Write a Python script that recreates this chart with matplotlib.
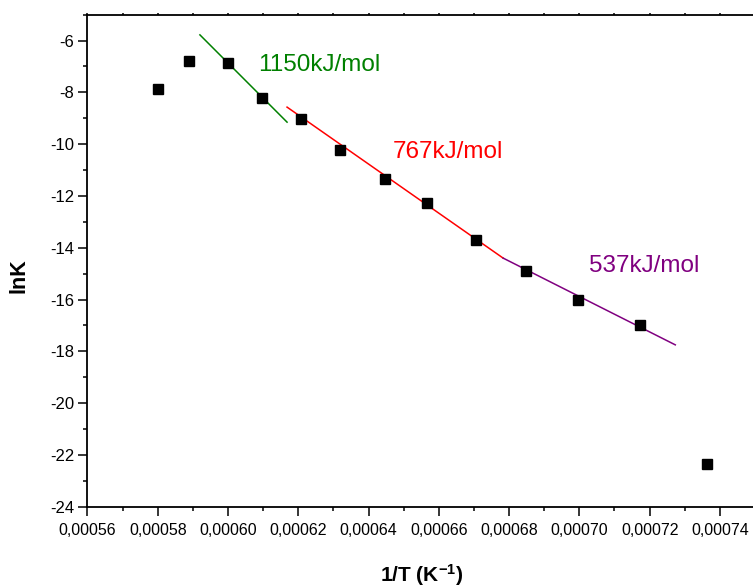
import matplotlib
matplotlib.use('Agg')
import matplotlib.pyplot as plt
from matplotlib.ticker import MultipleLocator, FuncFormatter

# data
inv_T = [0.000580, 0.000589, 0.000600, 0.0006096, 0.0006207, 0.000632, 0.0006448,
         0.0006566, 0.0006706, 0.0006848, 0.0006996, 0.0007172, 0.0007363]
lnK = [-7.87, -6.77, -6.86, -8.21, -9.03, -10.23, -11.34,
       -12.29, -13.72, -14.88, -16.02, -16.98, -22.34]

# fitted lines (end points)
fit1_x = [0.000592, 0.0006168]
fit1_y = [-5.78, -9.15]
fit2_x = [0.0006168, 0.0006783]
fit2_y = [-8.57, -14.40]
fit3_x = [0.0006783, 0.0007273]
fit3_y = [-14.40, -17.75]

labels = ['1150kJ/mol', '767kJ/mol', '537kJ/mol']
colors = ['#008000', '#ff0000', '#800080']

plt.rcParams['font.family'] = ['Liberation Sans', 'DejaVu Sans']
plt.rcParams['mathtext.fontset'] = 'custom'
plt.rcParams['mathtext.rm'] = 'Liberation Sans:bold'
plt.rcParams['mathtext.it'] = 'Liberation Sans:bold'
plt.rcParams['mathtext.bf'] = 'Liberation Sans:bold'

fig = plt.figure(figsize=(7.53, 5.87), dpi=100)
ax = fig.add_axes([0.1162, 0.1368, 0.8865, 0.8382])

ax.plot(fit1_x, fit1_y, color=colors[0], lw=1.1)
ax.plot(fit2_x, fit2_y, color=colors[1], lw=1.1)
ax.plot(fit3_x, fit3_y, color=colors[2], lw=1.1)
ax.plot(inv_T, lnK, 's', color='black', markersize=7, linestyle='none')

ax.text(0.0006085, -6.95, labels[0], color=colors[0], fontsize=17.5, va='center')
ax.text(0.0006468, -10.3, labels[1], color=colors[1], fontsize=17.5, va='center')
ax.text(0.0007027, -14.72, labels[2], color=colors[2], fontsize=17.5, va='center')

ax.set_xlim(0.00056, 0.00075)
ax.set_ylim(-24, -5)
ax.xaxis.set_major_locator(MultipleLocator(0.00002))
ax.xaxis.set_minor_locator(MultipleLocator(0.00001))
ax.yaxis.set_major_locator(MultipleLocator(2))
ax.yaxis.set_minor_locator(MultipleLocator(1))
ax.xaxis.set_major_formatter(FuncFormatter(lambda v, p: ('%.5f' % v).replace('.', ',')))
ax.yaxis.set_major_formatter(FuncFormatter(lambda v, p: '%d' % round(v)))

ax.tick_params(axis='both', which='major', direction='out', length=6.5, width=1.1,
               labelsize=12, pad=3)
ax.tick_params(axis='both', which='minor', direction='out', length=3, width=1.1)
ax.tick_params(axis='x', which='both', top=True)
ax.tick_params(axis='x', which='major', labelsize=11.5, pad=5)
for t in ax.xaxis.get_major_ticks() + ax.xaxis.get_minor_ticks():
    t.tick2line.set_markersize(1.2)

for s in ax.spines.values():
    s.set_linewidth(1.3)

ax.set_xlabel('1/T (K$^{\\mathrm{-1}}$)', fontsize=15, fontweight='bold')
ax.set_ylabel('lnK', fontsize=15.5, fontweight='bold')
ax.xaxis.set_label_coords(0.5, -0.112)
ax.yaxis.set_label_coords(-0.087, 0.469)

fig.savefig('out.png', dpi=100)
